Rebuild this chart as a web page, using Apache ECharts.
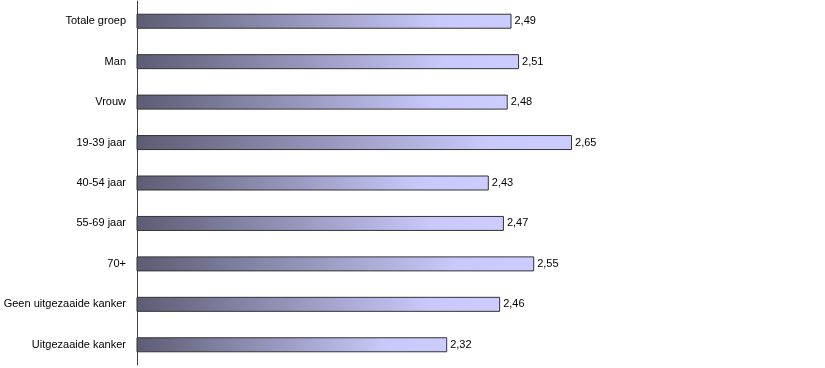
<!DOCTYPE html>
<html>
<head>
<meta charset="utf-8">
<script src="https://cdn.jsdelivr.net/npm/echarts@6/dist/echarts.min.js"></script>
<style>
html,body{margin:0;padding:0;background:#fff;}
#chart{width:825px;height:368px;}
</style>
</head>
<body>
<div id="chart"></div>
<script>
var categories = ["Totale groep","Man","Vrouw","19-39 jaar","40-54 jaar","55-69 jaar","70+","Geen uitgezaaide kanker","Uitgezaaide kanker"];
var values = [2.49, 2.51, 2.48, 2.65, 2.43, 2.47, 2.55, 2.46, 2.32];

var chart = echarts.init(document.getElementById('chart'));
chart.setOption({
  animation: false,
  grid: {left: 137, right: 26, top: 1, bottom: 3, containLabel: false},
  xAxis: {
    type: 'value', min: 1.5, max: 3.25,
    show: false
  },
  yAxis: {
    type: 'category', data: categories, inverse: true,
    axisLine: {show: true, lineStyle: {color: '#404040', width: 1}},
    axisTick: {show: false},
    axisLabel: {color: '#000', fontFamily: 'Liberation Sans, Arial', fontSize: 11, margin: 11}
  },
  series: [{
    type: 'bar',
    data: values,
    barWidth: 15,
    itemStyle: {
      color: new echarts.graphic.LinearGradient(0, 0, 1, 0, [
        {offset: 0, color: '#5c5c74'},
        {offset: 0.8, color: '#c8c8fa'},
        {offset: 1, color: '#ccccff'}
      ]),
      borderColor: '#333',
      borderWidth: 1
    },
    label: {
      show: true, position: 'right', distance: 3,
      color: '#000', fontFamily: 'Liberation Sans, Arial', fontSize: 11,
      formatter: function(p){ return p.value.toFixed(2).replace('.', ','); }
    }
  }]
});
</script>
</body>
</html>
